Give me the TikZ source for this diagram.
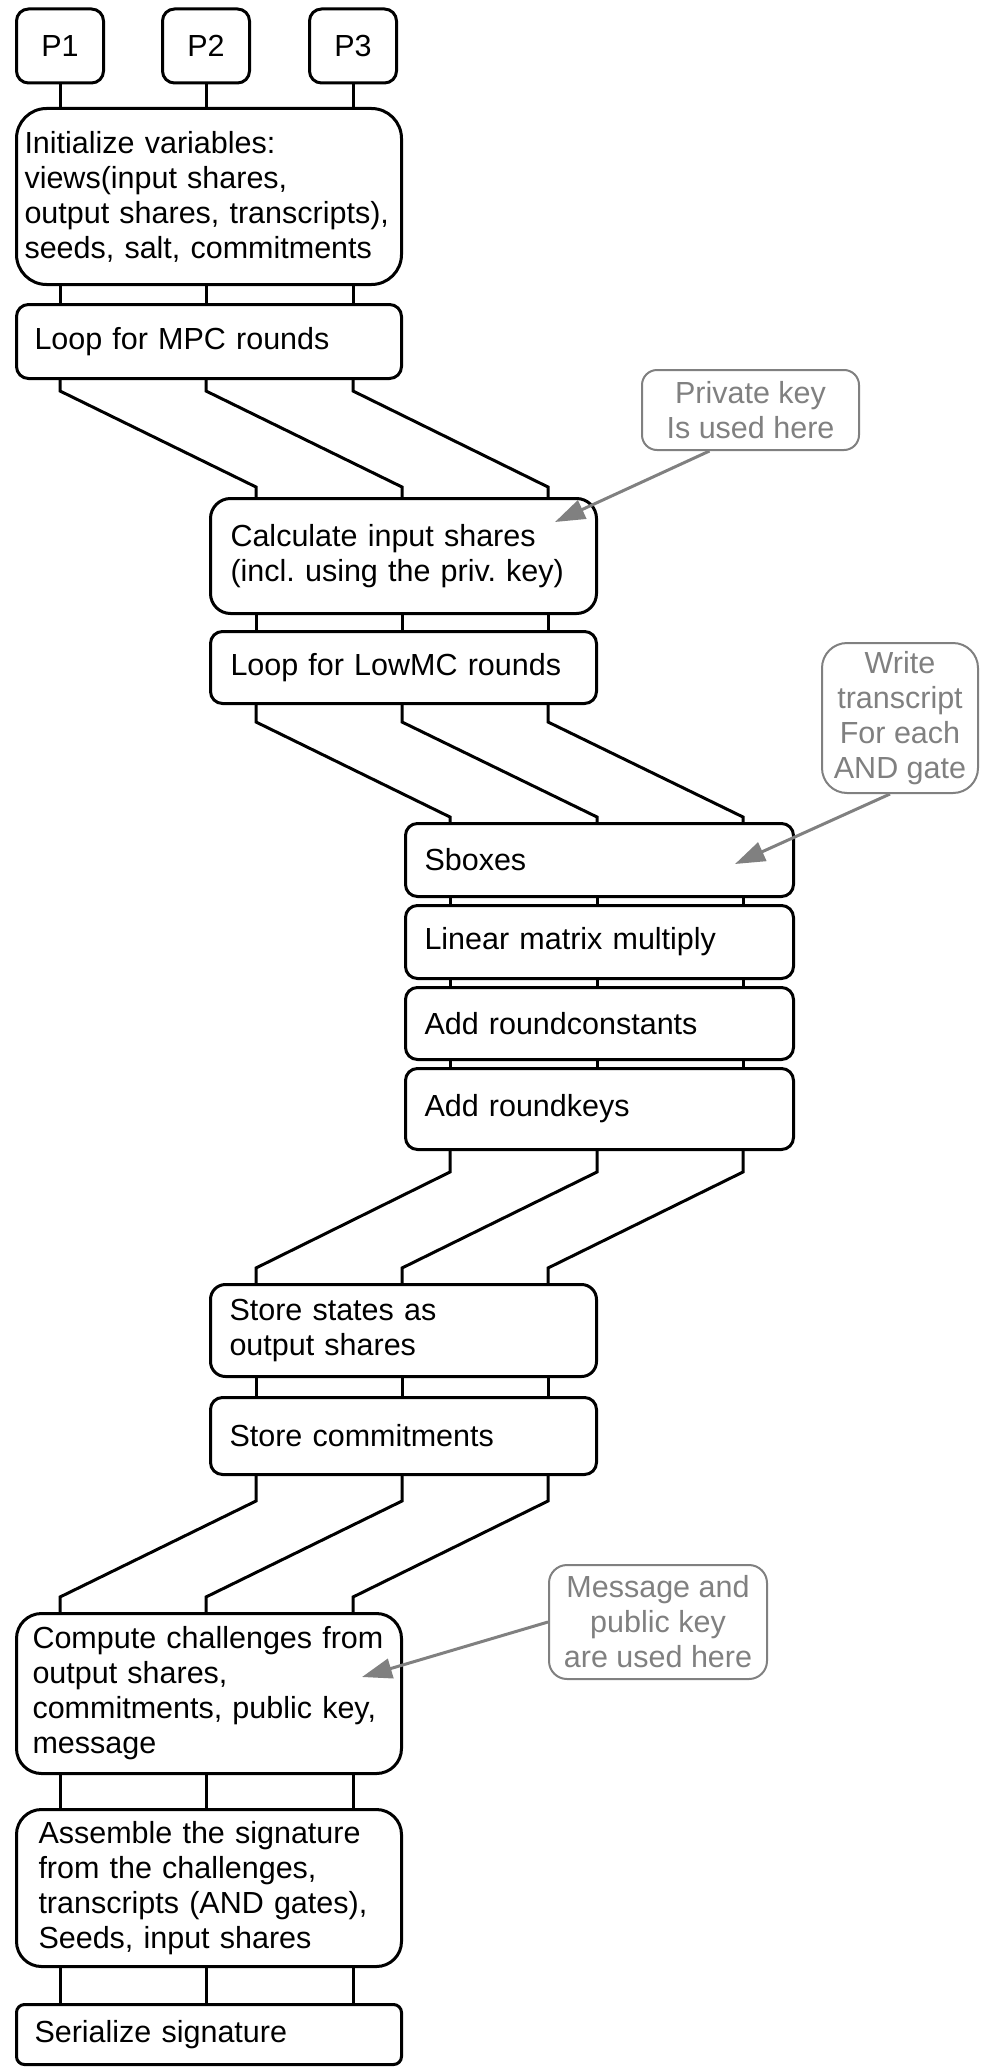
\documentclass[tikz,border=0pt]{standalone}
\usepackage{fontspec}
\setmainfont{Liberation Sans}
\frenchspacing
\usetikzlibrary{positioning}
\usetikzlibrary{calc}
\usetikzlibrary{arrows.meta}

\begin{document}
\begin{tikzpicture}[x=1pt, y=-1pt, font=\fontsize{30.5}{35}\selectfont]
			\tikzstyle{party}=[draw=black, line width=3pt, rounded corners=12pt, minimum width=87pt, minimum height=74pt]
			\tikzstyle{stepbox}=[draw=black, line width=3pt, anchor=north west, align=left, inner ysep=0pt]
			\tikzstyle{track}=[line width=3pt]
			\tikzstyle{note}=[draw=gray, text=gray, line width=2pt, anchor=north west, align=center, inner sep=0pt]
			\tikzstyle{notearrow}=[draw=gray, line width=3pt, -{Triangle[length=30pt, width=20pt]}]
			
			\useasboundingbox (0,0) rectangle (992,2071);
			
			% x positions of the three tracks
			\coordinate (a1) at (60,0);  \coordinate (a2) at (206,0); \coordinate (a3) at (353,0);
			\coordinate (b1) at (256,0); \coordinate (b2) at (402,0); \coordinate (b3) at (548,0);
			\coordinate (c1) at (450,0); \coordinate (c2) at (597,0); \coordinate (c3) at (743,0);
			
			\node at (60, 46) [party] (p1) {P1};
			\node at (206, 46) [party] (p2) {P2};
			\node at (353, 46) [party] (p3) {P3};
			
			\node at (15, 107) [stepbox, rounded corners=30pt, inner xsep=8pt, text width=369pt, minimum height=176pt] (init) {Initialize variables:\\views(input shares,\\output shares, transcripts),\\seeds, salt, commitments};
			\node at (15, 303) [stepbox, rounded corners=12pt, inner xsep=18pt, text width=349pt, minimum height=74pt] (mpc) {Loop for MPC rounds};
			
			\draw [track] (p1) to (init.north -| p1);
			\draw [track] (p2) to (init.north -| p2);
			\draw [track] (p3) to (init.north -| p3);
			\draw [track] (init.south -| a1) to (mpc.north -| a1);
			\draw [track] (init.south -| a2) to (mpc.north -| a2);
			\draw [track] (init.south -| a3) to (mpc.north -| a3);
			
			\node at (209, 497) [stepbox, rounded corners=20pt, inner xsep=20pt, text width=346pt, minimum height=115pt] (inshares) {Calculate input shares\\(incl. using the priv. key)};
			\node at (209, 630) [stepbox, rounded corners=12pt, inner xsep=20pt, text width=346pt, minimum height=72pt] (lowmc) {Loop for LowMC rounds};
			
			\draw [track] (mpc.south -| a1) -- ++(0,11) -- ($(inshares.north -| b1)+(0,-10)$) -- (inshares.north -| b1);
			\draw [track] (mpc.south -| a2) -- ++(0,11) -- ($(inshares.north -| b2)+(0,-10)$) -- (inshares.north -| b2);
			\draw [track] (mpc.south -| a3) -- ++(0,11) -- ($(inshares.north -| b3)+(0,-10)$) -- (inshares.north -| b3);
			\draw [track] (inshares.south -| b1) to (lowmc.north -| b1);
			\draw [track] (inshares.south -| b2) to (lowmc.north -| b2);
			\draw [track] (inshares.south -| b3) to (lowmc.north -| b3);
			
			\node at (404, 822) [stepbox, rounded corners=12pt, inner xsep=19pt, text width=350pt, minimum height=73pt] (sbox) {Sboxes};
			\node at (404, 904) [stepbox, rounded corners=12pt, inner xsep=19pt, text width=350pt, minimum height=73pt] (linmul) {Linear matrix multiply};
			\node at (404, 986) [stepbox, rounded corners=12pt, inner xsep=19pt, text width=350pt, minimum height=72pt] (rconst) {Add roundconstants};
			\node at (404, 1067) [stepbox, rounded corners=12pt, inner xsep=19pt, text width=350pt, minimum height=81pt] (rkeys) {Add roundkeys};
			
			\draw [track] (lowmc.south -| b1) -- ++(0,17) -- ($(sbox.north -| c1)+(0,-5)$) -- (sbox.north -| c1);
			\draw [track] (lowmc.south -| b2) -- ++(0,17) -- ($(sbox.north -| c2)+(0,-5)$) -- (sbox.north -| c2);
			\draw [track] (lowmc.south -| b3) -- ++(0,17) -- ($(sbox.north -| c3)+(0,-5)$) -- (sbox.north -| c3);
			\draw [track] (sbox.south -| c1) to (linmul.north -| c1);
			\draw [track] (sbox.south -| c2) to (linmul.north -| c2);
			\draw [track] (sbox.south -| c3) to (linmul.north -| c3);
			\draw [track] (linmul.south -| c1) to (rconst.north -| c1);
			\draw [track] (linmul.south -| c2) to (rconst.north -| c2);
			\draw [track] (linmul.south -| c3) to (rconst.north -| c3);
			\draw [track] (rconst.south -| c1) to (rkeys.north -| c1);
			\draw [track] (rconst.south -| c2) to (rkeys.north -| c2);
			\draw [track] (rconst.south -| c3) to (rkeys.north -| c3);
			
			\node at (209, 1283) [stepbox, rounded corners=15pt, inner xsep=19pt, text width=348pt, minimum height=92pt] (outsh) {Store states as\\output shares};
			\node at (209, 1396) [stepbox, rounded corners=12pt, inner xsep=19pt, text width=348pt, minimum height=77pt] (commit) {Store commitments};
			
			\draw [track] (rkeys.south -| c1) -- ++(0,21) -- ($(outsh.north -| b1)+(0,-15)$) -- (outsh.north -| b1);
			\draw [track] (rkeys.south -| c2) -- ++(0,21) -- ($(outsh.north -| b2)+(0,-15)$) -- (outsh.north -| b2);
			\draw [track] (rkeys.south -| c3) -- ++(0,21) -- ($(outsh.north -| b3)+(0,-15)$) -- (outsh.north -| b3);
			\draw [track] (outsh.south -| b1) to (commit.north -| b1);
			\draw [track] (outsh.south -| b2) to (commit.north -| b2);
			\draw [track] (outsh.south -| b3) to (commit.north -| b3);
			
			\node at (15, 1612) [stepbox, rounded corners=25pt, inner xsep=16pt, text width=353pt, minimum height=160pt] (chall) {Compute challenges from\\output shares,\\commitments, public key,\\message};
			\node at (15, 1808) [stepbox, rounded corners=25pt, inner xsep=22pt, text width=341pt, minimum height=157pt] (assemble) {Assemble the signature\\from the challenges,\\transcripts (AND gates),\\Seeds, input shares};
			\node at (15, 2003) [stepbox, rounded corners=8pt, inner xsep=18pt, text width=349pt, minimum height=60pt] (serial) {Serialize signature};
			
			\draw [track] (commit.south -| b1) -- ++(0,25) -- ($(chall.north -| a1)+(0,-15)$) -- (chall.north -| a1);
			\draw [track] (commit.south -| b2) -- ++(0,25) -- ($(chall.north -| a2)+(0,-15)$) -- (chall.north -| a2);
			\draw [track] (commit.south -| b3) -- ++(0,25) -- ($(chall.north -| a3)+(0,-15)$) -- (chall.north -| a3);
			\draw [track] (chall.south -| a1) to (assemble.north -| a1);
			\draw [track] (chall.south -| a2) to (assemble.north -| a2);
			\draw [track] (chall.south -| a3) to (assemble.north -| a3);
			\draw [track] (assemble.south -| a1) to (serial.north -| a1);
			\draw [track] (assemble.south -| a2) to (serial.north -| a2);
			\draw [track] (assemble.south -| a3) to (serial.north -| a3);
			
			% remarks in grey
			\node at (641, 369) [note, rounded corners=15pt, minimum width=217pt, minimum height=80pt] (privkey) {Private key\\Is used here};
			\node at (821, 642) [note, rounded corners=25pt, minimum width=156pt, minimum height=150pt] (transcr) {Write\\transcript\\For each\\AND gate};
			\node at (548, 1564) [note, rounded corners=18pt, minimum width=218pt, minimum height=114pt] (msgkey) {Message and\\public key\\are used here};
			
			\coordinate (privtip) at (555, 522);
			\coordinate (transtip) at (735, 864);
			\coordinate (msgtip) at (362, 1677);
			\draw [notearrow] ($(privkey.south)+(-41,0)$) to (privtip);
			\draw [notearrow] ($(transcr.south)+(-10,0)$) to (transtip);
			\draw [notearrow] (msgkey.west) to (msgtip);
\end{tikzpicture}
\end{document}
